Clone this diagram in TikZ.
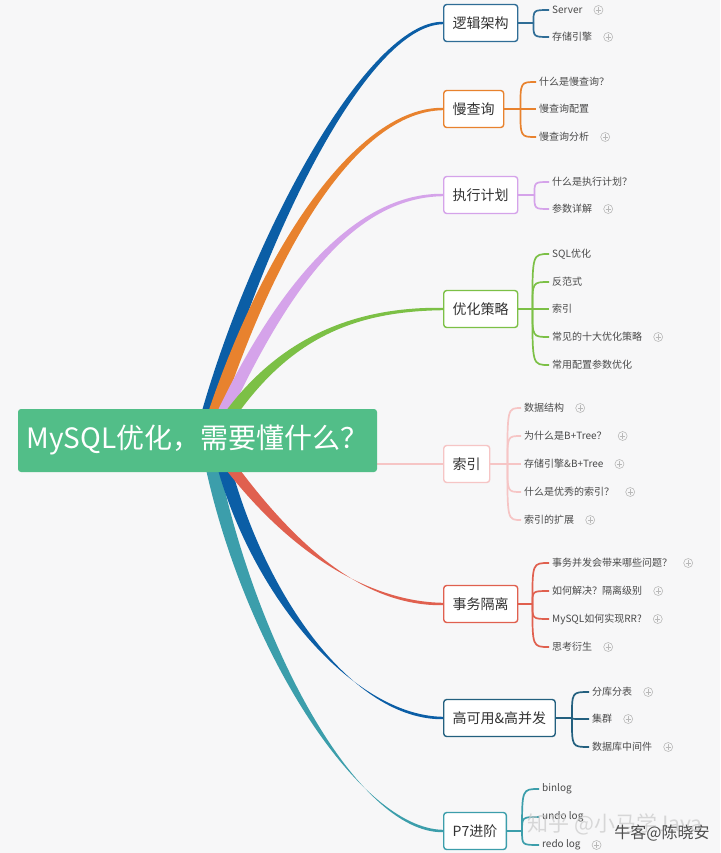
\documentclass[tikz,border=0pt]{standalone}
\usepackage{fontspec}
\setmainfont{Noto Sans CJK SC}
\usetikzlibrary{calc, positioning, backgrounds}

\definecolor{bgpage}{HTML}{F7F7F8}
\definecolor{rootgreen}{HTML}{52BE88}
\definecolor{cblue}{HTML}{0B5EA6}
\definecolor{cblueBox}{HTML}{2F6D96}
\definecolor{corange}{HTML}{E8822E}
\definecolor{clilac}{HTML}{D5A3EA}
\definecolor{cgreen}{HTML}{7CC046}
\definecolor{cpink}{HTML}{F6C5C5}
\definecolor{cred}{HTML}{E0604F}
\definecolor{cnavyBox}{HTML}{23607F}
\definecolor{cteal}{HTML}{3C9EAB}
\definecolor{itemtext}{HTML}{4A4A4A}

% tapered main branch: colour, start, first control, target node, pull
\newcommand{\mmbranch}[5]{%
  \fill[#1] ($(#2)+(-7,0)$) .. controls +(#3) and +(-#5,-1.2) .. ($(#4.west)+(0,-1.2)$)
    -- ($(#4.west)+(0,1.2)$) .. controls +(-#5,1.2) and +(#3) .. ($(#2)+(7,0)$) -- cycle;}

\begin{document}
\begin{tikzpicture}[x=1pt, y=-1pt,
    box/.style={draw=#1, line width=1.4pt, rounded corners=3pt, fill=white, anchor=west,
      minimum height=37pt, inner xsep=9pt, font=\fontsize{14}{16}\selectfont, text=black!80},
    item/.style={anchor=west, inner sep=3pt, font=\fontsize{10}{12}\selectfont, text=itemtext},
    expander/.style={circle, draw=gray!55, line width=.6pt, minimum size=9pt, inner sep=0pt,
      right=8pt of #1,
      path picture={\draw[gray!55, line width=.6pt]
        ([xshift=-2.6pt]path picture bounding box.center) -- ([xshift=2.6pt]path picture bounding box.center)
        ([yshift=-2.6pt]path picture bounding box.center) -- ([yshift=2.6pt]path picture bounding box.center);}},
    sub/.style={draw=#1, line width=1.7pt}]
  \useasboundingbox (0,0) rectangle (720,853);

  % centre topic
  \node[fill=rootgreen, rounded corners=3pt, minimum width=359pt, minimum height=63pt,
    text=white, font=\fontsize{28}{31}\selectfont] (root) at (197.5,440.5) {MySQL优化，需要懂什么？};

  % main topics
  \node[box=cblueBox] (logic) at (443,23)  {逻辑架构};
  \node[box=corange]  (slow)  at (443,109) {慢查询};
  \node[box=clilac]   (plan)  at (443,195) {执行计划};
  \node[box=cgreen]   (opt)   at (443,309) {优化策略};
  \node[box=cpink]    (index) at (443,464) {索引};
  \node[box=cred]     (trans) at (443,604) {事务隔离};
  \node[box=cnavyBox] (ha)    at (443,718) {高可用\&高并发};
  \node[box=cteal]    (p7)    at (443,831) {P7进阶};

  % sub topics
  \node[item] (logic1) at (549,10) {Server};
  \node[item] (logic2) at (549,37) {存储引擎};
  \node[item] (slow1) at (536,82)  {什么是慢查询？};
  \node[item] (slow2) at (536,109) {慢查询配置};
  \node[item] (slow3) at (536,137) {慢查询分析};
  \node[item] (plan1) at (549,182) {什么是执行计划？};
  \node[item] (plan2) at (549,209) {参数详解};
  \node[item] (opt1) at (549,254) {SQL优化};
  \node[item] (opt2) at (549,282) {反范式};
  \node[item] (opt3) at (549,309) {索引};
  \node[item] (opt4) at (549,337) {常见的十大优化策略};
  \node[item] (opt5) at (549,365) {常用配置参数优化};
  \node[item] (index1) at (521,408) {数据结构};
  \node[item] (index2) at (521,436) {为什么是B+Tree？};
  \node[item] (index3) at (521,464) {存储引擎\&B+Tree};
  \node[item] (index4) at (521,492) {什么是优秀的索引？};
  \node[item] (index5) at (521,520) {索引的扩展};
  \node[item] (trans1) at (549,563) {事务并发会带来哪些问题？};
  \node[item] (trans2) at (549,591) {如何解决？隔离级别};
  \node[item] (trans3) at (549,619) {MySQL如何实现RR?};
  \node[item] (trans4) at (549,647) {思考衍生};
  \node[item] (ha1) at (589,692) {分库分表};
  \node[item] (ha2) at (589,719) {集群};
  \node[item] (ha3) at (589,747) {数据库中间件};
  \node[item] (p71) at (539,789) {binlog};
  \node[item] (p72) at (539,817) {undo log};
  \node[item] (p73) at (539,845) {redo log};

  % expand markers
  \node[expander=logic1] (logic1x) {};
  \node[expander=logic2] (logic2x) {};
  \node[expander=slow3] (slow3x) {};
  \node[expander=plan2] (plan2x) {};
  \node[expander=opt4] (opt4x) {};
  \node[expander=index1] (index1x) {};
  \node[expander=index2] (index2x) {};
  \node[expander=index3] (index3x) {};
  \node[expander=index4] (index4x) {};
  \node[expander=index5] (index5x) {};
  \node[expander=trans1] (trans1x) {};
  \node[expander=trans2] (trans2x) {};
  \node[expander=trans3] (trans3x) {};
  \node[expander=trans4] (trans4x) {};
  \node[expander=ha1] (ha1x) {};
  \node[expander=ha2] (ha2x) {};
  \node[expander=ha3] (ha3x) {};
  \node[expander=p73] (p73x) {};

  % brace joints
  \coordinate (jLogic) at ($(logic.east)+(15,0)$);
  \coordinate (jSlow)  at ($(slow.east)+(16,0)$);
  \coordinate (jPlan)  at ($(plan.east)+(16,0)$);
  \coordinate (jOpt)   at ($(opt.east)+(14,0)$);
  \coordinate (jIndex) at ($(index.east)+(17,0)$);
  \coordinate (jTrans) at ($(trans.east)+(14,0)$);
  \coordinate (jHa)    at ($(ha.east)+(16,0)$);
  \coordinate (jP7)    at ($(p7.east)+(15,0)$);

  \draw[sub=cblueBox] (logic.east) -- (jLogic);
  \foreach \i in {1,2} \draw[sub=cblueBox] (jLogic) .. controls (jLogic |- logic\i.west) .. (logic\i.west);
  \draw[sub=corange] (slow.east) -- (jSlow);
  \foreach \i in {1,2,3} \draw[sub=corange] (jSlow) .. controls (jSlow |- slow\i.west) .. (slow\i.west);
  \draw[sub=clilac] (plan.east) -- (jPlan);
  \foreach \i in {1,2} \draw[sub=clilac] (jPlan) .. controls (jPlan |- plan\i.west) .. (plan\i.west);
  \draw[sub=cgreen] (opt.east) -- (jOpt);
  \foreach \i in {1,...,5} \draw[sub=cgreen] (jOpt) .. controls (jOpt |- opt\i.west) .. (opt\i.west);
  \draw[sub=cpink] (index.east) -- (jIndex);
  \foreach \i in {1,...,5} \draw[sub=cpink] (jIndex) .. controls (jIndex |- index\i.west) .. (index\i.west);
  \draw[sub=cred] (trans.east) -- (jTrans);
  \foreach \i in {1,...,4} \draw[sub=cred] (jTrans) .. controls (jTrans |- trans\i.west) .. (trans\i.west);
  \draw[sub=cnavyBox] (ha.east) -- (jHa);
  \foreach \i in {1,2,3} \draw[sub=cnavyBox] (jHa) .. controls (jHa |- ha\i.west) .. (ha\i.west);
  \draw[sub=cteal] (p7.east) -- (jP7);
  \foreach \i in {1,2,3} \draw[sub=cteal] (jP7) .. controls (jP7 |- p7\i.west) .. (p7\i.west);

  % watermarks
  \node[font=\fontsize{21}{24}\selectfont, text=gray!40, opacity=.75] (wmZhihu) at (615,824) {知乎 @小马学Java};
  \node[font=\fontsize{16}{18}\selectfont, text=black!70] (wmNowcoder) at (662,833) {牛客@陈晓安};

  % branches behind the centre topic
  \begin{scope}[on background layer]
    \fill[bgpage] (0,0) rectangle (720,853);
    \coordinate (sLogic) at (205,425);
    \coordinate (sSlow)  at (211,425);
    \coordinate (sPlan)  at (218,425);
    \coordinate (sOpt)   at (223,425);
    \coordinate (sTrans) at (222,455);
    \coordinate (sHa)    at (221,455);
    \coordinate (sP7)    at (210,455);
    \mmbranch{cblue}{sLogic}{52,-190}{logic}{75}
    \mmbranch{corange}{sSlow}{58,-180}{slow}{85}
    \mmbranch{clilac}{sPlan}{62,-135}{plan}{90}
    \mmbranch{cgreen}{sOpt}{60,-90}{opt}{85}
    \draw[cpink, line width=1.6pt] (root.east |- index.west) -- (index.west);
    \mmbranch{cteal}{sP7}{38,190}{p7}{85}
    \mmbranch{cblue}{sHa}{35,140}{ha}{90}
    \mmbranch{cred}{sTrans}{65,90}{trans}{80}
  \end{scope}
\end{tikzpicture}
\end{document}
